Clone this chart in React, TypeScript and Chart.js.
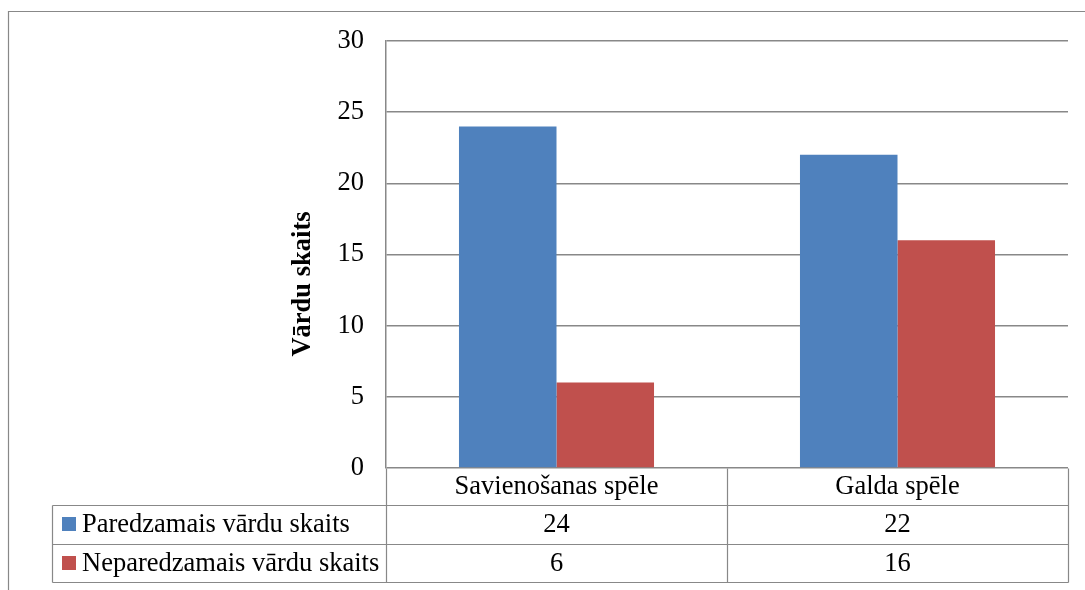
import React, { useEffect, useRef } from "react";
import { Chart, registerables } from "chart.js";

Chart.register(...registerables);

const categories = ["Savienošanas spēle", "Galda spēle"];
const seriesNames = ["Paredzamais vārdu skaits", "Neparedzamais vārdu skaits"];
const expectedValues = [24, 22];
const unexpectedValues = [6, 16];
const seriesColors = ["#4F81BD", "#C0504D"];
const axisTitle = "Vārdu skaits";
const yMin = 0;
const yMax = 30;
const yStep = 5;

const LINE = "#888888";
const FONT = "\"Liberation Serif\", \"Times New Roman\", serif";
const FS = 26.5;

const tablePlugin = {
  id: "dataTable",
  afterDraw(chart: any) {
    const ctx = chart.ctx as CanvasRenderingContext2D;
    const area = chart.chartArea;
    const xs = chart.scales.x;
    const n = categories.length;
    const half = (area.right - area.left) / n / 2;
    const centers = categories.map((_, i) => xs.getPixelForValue(i));
    const bounds = [centers[0] - half, ...centers.map((c) => c + half)];
    const legendLeft = 52;
    const rowTops = [area.bottom, 505, 544, 582];

    ctx.save();
    ctx.strokeStyle = LINE;
    ctx.lineWidth = 1.2;
    const a = (v: number) => Math.round(v) + 0.5;

    // outer frame
    ctx.beginPath();
    ctx.moveTo(a(8), 590);
    ctx.lineTo(a(8), a(11));
    ctx.lineTo(1085, a(11));
    ctx.stroke();

    // table horizontal lines
    ctx.beginPath();
    for (let r = 1; r < rowTops.length; r++) {
      ctx.moveTo(a(legendLeft), a(rowTops[r]));
      ctx.lineTo(a(bounds[n]), a(rowTops[r]));
    }
    // vertical lines
    ctx.moveTo(a(legendLeft), a(rowTops[1]));
    ctx.lineTo(a(legendLeft), a(rowTops[3]));
    bounds.forEach((b) => {
      ctx.moveTo(a(b), a(rowTops[0]));
      ctx.lineTo(a(b), a(rowTops[3]));
    });
    ctx.stroke();

    // header labels
    ctx.fillStyle = "#000";
    ctx.font = `${FS}px ${FONT}`;
    ctx.textAlign = "center";
    ctx.textBaseline = "alphabetic";
    categories.forEach((c, i) => ctx.fillText(c, centers[i], 494));

    // rows
    const rowBaselines = [532, 571];
    const rowData = [expectedValues, unexpectedValues];
    rowData.forEach((vals, r) => {
      ctx.textAlign = "center";
      vals.forEach((v, i) => ctx.fillText(String(v), centers[i], rowBaselines[r]));
      ctx.fillStyle = seriesColors[r];
      ctx.fillRect(62, rowBaselines[r] - 15, 14, 14);
      ctx.fillStyle = "#000";
      ctx.textAlign = "left";
      ctx.fillText(seriesNames[r], 82, rowBaselines[r]);
    });

    // axis title
    ctx.font = `bold ${FS}px ${FONT}`;
    ctx.translate(303, 284);
    ctx.rotate(-Math.PI / 2);
    ctx.textAlign = "center";
    ctx.textBaseline = "middle";
    ctx.fillText(axisTitle, 0, 0);
    ctx.restore();
  },
};

export default function App() {
  const ref = useRef<HTMLCanvasElement | null>(null);
  useEffect(() => {
    if (!ref.current) return;
    const chart = new Chart(ref.current, {
      type: "bar",
      data: {
        labels: categories,
        datasets: [
          {
            label: seriesNames[0],
            data: expectedValues,
            backgroundColor: seriesColors[0],
            borderWidth: 0,
          },
          {
            label: seriesNames[1],
            data: unexpectedValues,
            backgroundColor: seriesColors[1],
            borderWidth: 0,
          },
        ],
      },
      options: {
        responsive: false,
        animation: false,
        layout: { padding: { left: 0, top: 41, right: 17, bottom: 122 } },
        datasets: { bar: { categoryPercentage: 0.572, barPercentage: 1 } },
        plugins: {
          legend: { display: false },
          tooltip: { enabled: false },
          title: { display: false },
        },
        scales: {
          x: { display: false },
          y: {
            min: yMin,
            max: yMax,
            ticks: {
              stepSize: yStep,
              color: "#000",
              padding: 22,
              font: { family: FONT, size: FS },
            },
            grid: { color: LINE, lineWidth: 1.5, drawTicks: false },
            border: { display: true, color: LINE, width: 1.5 },
            afterFit: (s: any) => {
              s.width = 386;
            },
          },
        },
      },
      plugins: [tablePlugin],
    });
    return () => chart.destroy();
  }, []);
  return (
    <div style={{ position: "absolute", left: 0, top: 0, width: 1085, height: 590, background: "#fff" }}>
      <canvas ref={ref} width={1085} height={590} style={{ display: "block" }} />
    </div>
  );
}
